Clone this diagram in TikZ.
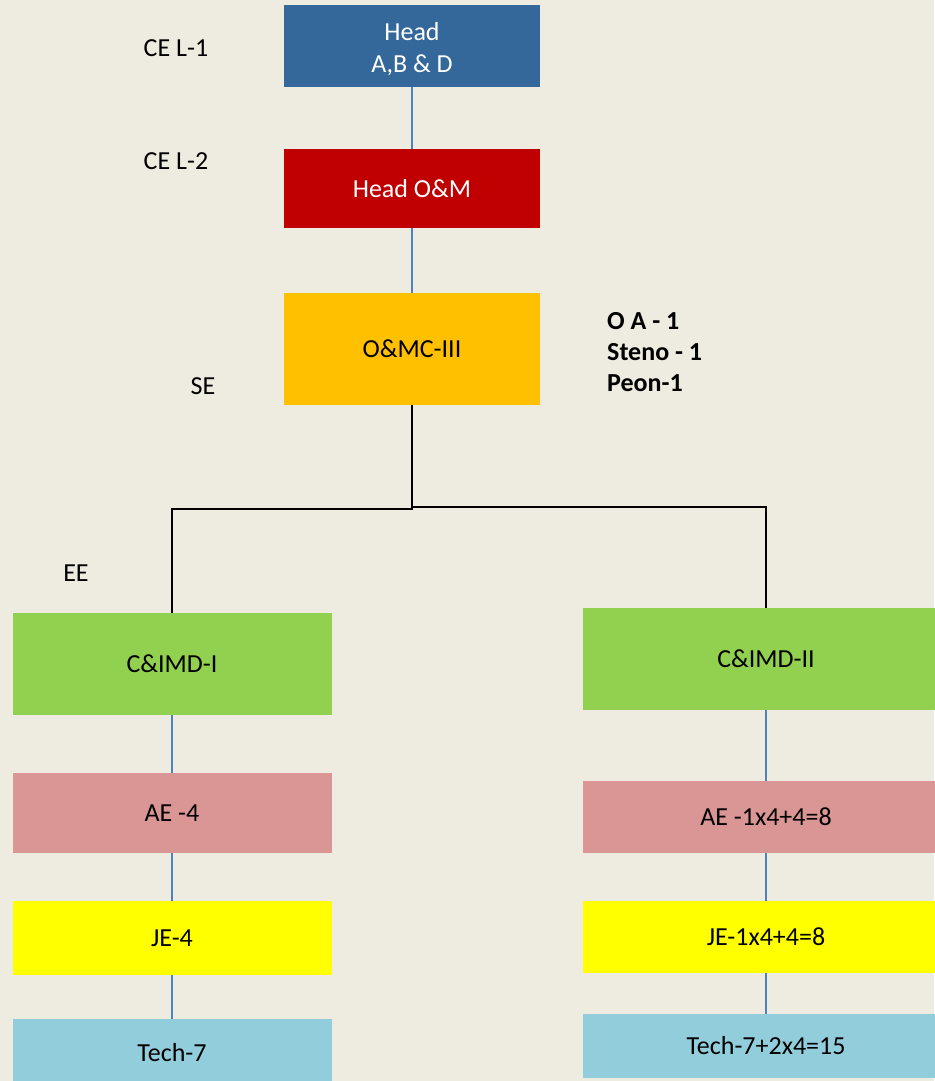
\documentclass[tikz,border=0pt]{standalone}
\usepackage{fontspec}
\setmainfont{Carlito}
\definecolor{bgc}{HTML}{EEEBE0}
\definecolor{headblue}{HTML}{35689A}
\definecolor{omred}{HTML}{C00000}
\definecolor{omorange}{HTML}{FFC000}
\definecolor{divgreen}{HTML}{92D050}
\definecolor{aepink}{HTML}{DA9694}
\definecolor{jeyellow}{HTML}{FFFF00}
\definecolor{techblue}{HTML}{92CDDC}
\definecolor{lineblue}{HTML}{4F81BD}
\begin{document}
\begin{tikzpicture}[x=1pt,y=-1pt,
  box/.style={draw=none, inner sep=0pt, font=\fontsize{26}{32}\selectfont, text=black, align=center},
  lbox/.style={box, minimum width=319},
  rbox/.style={box, minimum width=366},
  lbl/.style={inner sep=0pt, font=\fontsize{26}{32}\selectfont, text=black},
  blueline/.style={draw=lineblue, line width=1.5pt},
  blackline/.style={draw=black, line width=2pt}]
\fill[bgc] (0,0) rectangle (934,1081);
\useasboundingbox (0,0) rectangle (934,1081);

\node[box, fill=headblue, minimum width=256, minimum height=82] (head) at (412,46) {};
\node[box, text=white] (headtxt) at (412,49) {Head\\A,B \& D};
\node[box, fill=omred, text=white, minimum width=256, minimum height=79] (om) at (412,188.5) {Head O\&M};
\node[box, fill=omorange, minimum width=256, minimum height=112] (omc) at (412,349) {O\&MC-III};

\node[lbox, fill=divgreen, minimum height=102] (c1) at (172,664) {C\&IMD-I};
\node[rbox, fill=divgreen, minimum height=102] (c2) at (766,659) {C\&IMD-II};
\node[lbox, fill=aepink, minimum height=80] (ae1) at (172,813) {AE -4};
\node[rbox, fill=aepink, minimum height=72] (ae2) at (766,817) {AE -1x4+4=8};
\node[lbox, fill=jeyellow, minimum height=74] (je1) at (172,938) {JE-4};
\node[rbox, fill=jeyellow, minimum height=72] (je2) at (766,937) {JE-1x4+4=8};
\node[lbox, fill=techblue, minimum height=68] (t1) at (172,1053) {Tech-7};
\node[rbox, fill=techblue, minimum height=64] (t2) at (766,1046) {Tech-7+2x4=15};

\node[lbl] (cel1) at (176,48) {CE L-1};
\node[lbl] (cel2) at (176,161) {CE L-2};
\node[lbl] (se) at (203,386) {SE};
\node[lbl] (ee) at (76,573) {EE};
\node[lbl, anchor=west, align=left, font=\fontsize{26}{31}\selectfont\bfseries] (staff) at (607,352) {O A - 1\\Steno - 1\\Peon-1};

\draw[blueline] (head.south) -- (om.north);
\draw[blueline] (om.south) -- (omc.north);

\coordinate (jl) at (412,509);
\coordinate (jr) at (412,507);
\draw[blackline] (omc.south) -- (jl) -| (c1.north);
\draw[blackline] (jr) -| (c2.north);

\draw[blueline] (c1.south) -- (ae1.north);
\draw[blueline] (ae1.south) -- (je1.north);
\draw[blueline] (je1.south) -- (t1.north);
\draw[blueline] (c2.south) -- (ae2.north);
\draw[blueline] (ae2.south) -- (je2.north);
\draw[blueline] (je2.south) -- (t2.north);
\end{tikzpicture}
\end{document}
